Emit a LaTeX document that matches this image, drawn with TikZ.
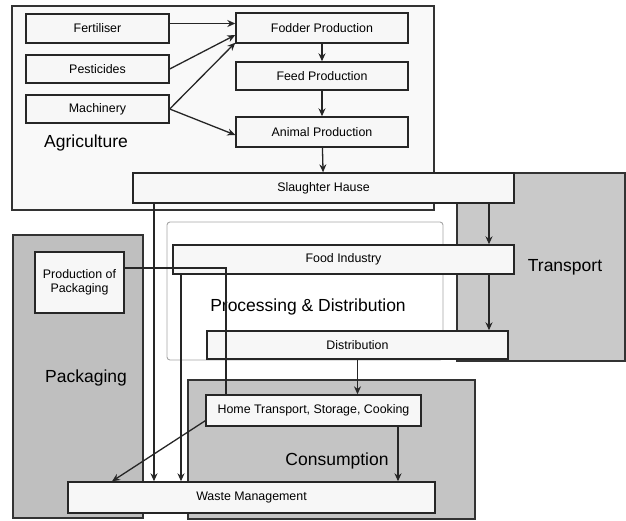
\documentclass[tikz,border=0pt]{standalone}
\usepackage{fontspec}
\setmainfont{Liberation Sans}
\usepackage[dvipsnames]{xcolor}
\usepackage{tikz}
\usetikzlibrary{arrows.meta}
\tikzset{
  region/.style = {draw=black!80, line width=1.4pt, inner sep=0pt},
  bx/.style = {draw=black!85, line width=1.4pt, fill=gray!6, inner sep=0pt,
    font=\fontsize{12.4}{14}\selectfont, align=center},
  lbl/.style = {inner sep=0pt, font=\fontsize{17.5}{20}\selectfont}
}

\begin{document}
\begin{tikzpicture}[x=1pt, y=-1pt, ->, >={Stealth[length=8pt,width=7pt]},
  line width=1.3pt, draw=black!85]
\useasboundingbox (0,0) rectangle (626,520);
\node [region, fill=gray!5, minimum width=422pt, minimum height=204pt] (agri) at (223,108) {};
\node [region, fill=gray!42, minimum width=168pt, minimum height=188pt] (transp) at (541,267) {};
\node [region, draw=gray!70, line width=0.9pt, fill=white, rounded corners=3pt,
  minimum width=276pt, minimum height=138pt] (proc) at (305,291) {};
\node [region, fill=gray!50, minimum width=130pt, minimum height=283pt] (pack) at (78,376.5) {};
\node [region, fill=gray!46, minimum width=287pt, minimum height=139pt] (cons) at (331.5,449.5) {};

\node [lbl] (agrilbl) at (86,143) {Agriculture};
\node [lbl] (transplbl) at (565,267) {Transport};
\node [lbl] (proclbl) at (308,307) {Processing \& Distribution};
\node [lbl] (packlbl) at (86,378) {Packaging};
\node [lbl] (conslbl) at (337,461) {Consumption};

\node [bx, minimum width=143pt, minimum height=29pt] (fert) at (97.5,28.5) {Fertiliser};
\node [bx, minimum width=143pt, minimum height=28pt] (pest) at (97.5,69) {Pesticides};
\node [bx, minimum width=143pt, minimum height=28pt] (mach) at (97.5,109) {Machinery};
\node [bx, minimum width=172pt, minimum height=30pt] (fodder) at (322,28) {Fodder Production};
\node [bx, minimum width=172pt, minimum height=28pt] (feed) at (322,76) {Feed Production};
\node [bx, minimum width=172pt, minimum height=30pt] (animal) at (322,132) {Animal Production};
\node [bx, minimum width=381pt, minimum height=30pt] (slaughter) at (323.5,188) {Slaughter Hause};
\node [bx, minimum width=341pt, minimum height=29pt] (food) at (343.5,259.5) {Food Industry};
\node [bx, minimum width=301pt, minimum height=28pt] (dist) at (357.5,345) {Distribution};
\node [bx, minimum width=89pt, minimum height=61pt] (prodpack) at (79.5,282.5) {Production of\\Packaging};
\node [bx, minimum width=215pt, minimum height=31pt] (home) at (313.5,410.5) {Home Transport, Storage, Cooking};
\node [bx, minimum width=367pt, minimum height=31pt] (waste) at (251.5,497.5) {Waste Management};

\coordinate (trx) at (489,0);
\coordinate (swx) at (154,0);
\coordinate (fwx) at (181,0);
\coordinate (hwx) at (398,0);
\coordinate (dgx) at (112,0);
\coordinate (pk) at (226,268);

\draw ([yshift=5pt]fert.east) -- ([yshift=5pt]fert.east -| fodder.west);
\draw (pest.east) -- ([yshift=-7pt]fodder.west);
\draw (mach.east) -- ([yshift=1pt]fodder.south west);
\draw (mach.east) -- ([yshift=-3pt]animal.west);
\draw (fodder) -- (feed);
\draw (feed) -- (animal);
\draw (animal) -- (slaughter);
\draw (slaughter.south -| trx) -- (food.north -| trx);
\draw (food.south -| trx) -- (dist.north -| trx);
\draw (slaughter.south -| swx) -- (waste.north -| swx);
\draw (food.south -| fwx) -- (waste.north -| fwx);
\draw (dist.south) -- (dist.south |- home.north);
\draw (home.south -| hwx) -- (waste.north -| hwx);
\draw ([yshift=6pt]home.south west) -- (waste.north -| dgx);
\draw [-] (prodpack.east |- pk) -| (home.north -| pk);
\end{tikzpicture}
\end{document}
